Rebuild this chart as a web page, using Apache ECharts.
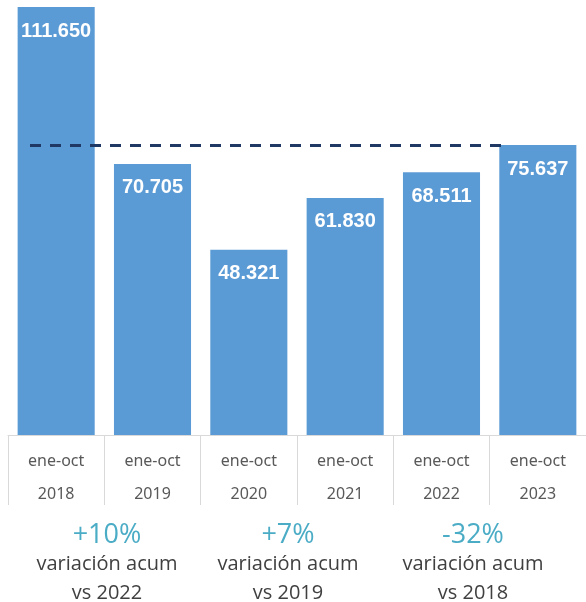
<!DOCTYPE html>
<html>
<head>
<meta charset="utf-8">
<script src="https://cdn.jsdelivr.net/npm/echarts@6/dist/echarts.min.js"></script>
<style>
  html, body { margin: 0; padding: 0; background: #fff; }
  #main { width: 586px; height: 602px; }
</style>
</head>
<body>
<div id="main"></div>
<script>
var periods = ['ene-oct', 'ene-oct', 'ene-oct', 'ene-oct', 'ene-oct', 'ene-oct'];
var years = ['2018', '2019', '2020', '2021', '2022', '2023'];
var values = [111650, 70705, 48321, 61830, 68511, 75637];
var refValue = 75637;
var changes = ['+10%', '+7%', '-32%'];
var changeTexts = ['variación acum', 'variación acum', 'variación acum'];
var compareTexts = ['vs 2022', 'vs 2019', 'vs 2018'];

var categories = years.map(function (y, i) { return periods[i] + '\n' + y; });

function fmt(v) {
  return String(v).replace(/\B(?=(\d{3})+(?!\d))/g, '.');
}

var myChart = echarts.init(document.getElementById('main'));

var footerX = [107, 288, 473];
var footer = [];
changes.forEach(function (c, i) {
  footer.push({
    type: 'text', x: footerX[i], y: 535,
    style: { text: c, fill: '#4bacc6', font: '27px "Open Sans"', align: 'center', verticalAlign: 'middle' }
  });
  footer.push({
    type: 'text', x: footerX[i], y: 564,
    style: { text: changeTexts[i], fill: '#404040', font: '20px "Open Sans"', align: 'center', verticalAlign: 'middle' }
  });
  footer.push({
    type: 'text', x: footerX[i], y: 593,
    style: { text: compareTexts[i], fill: '#404040', font: '20px "Open Sans"', align: 'center', verticalAlign: 'middle' }
  });
});

var option = {
  animation: false,
  grid: { left: 8, right: -4, top: 7, bottom: 167 },
  xAxis: {
    type: 'category',
    data: categories,
    axisLine: { lineStyle: { color: '#d9d9d9', width: 1 } },
    axisTick: { show: true, interval: 0, length: 70, lineStyle: { color: '#d9d9d9' } },
    axisLabel: {
      interval: 0,
      margin: 10,
      color: '#595959',
      fontFamily: 'Noto Sans',
      fontSize: 16,
      lineHeight: 33
    }
  },
  yAxis: {
    type: 'value',
    min: 0,
    max: 111650,
    show: false,
    splitLine: { show: false }
  },
  series: [{
    type: 'bar',
    data: values,
    barCategoryGap: '20%',
    itemStyle: { color: '#5b9bd5' },
    label: {
      show: true,
      position: 'insideTop',
      distance: 14,
      color: '#fff',
      fontWeight: 'bold',
      fontFamily: 'Liberation Sans',
      fontSize: 20,
      formatter: function (p) { return fmt(p.value); }
    },
    markLine: {
      silent: true,
      symbol: 'none',
      label: { show: false },
      lineStyle: { color: '#203864', width: 3, type: [11, 9] },
      data: [[{ yAxis: refValue, x: 30 }, { yAxis: refValue, x: 503 }]]
    }
  }],
  graphic: footer
};

myChart.setOption(option);
</script>
</body>
</html>
